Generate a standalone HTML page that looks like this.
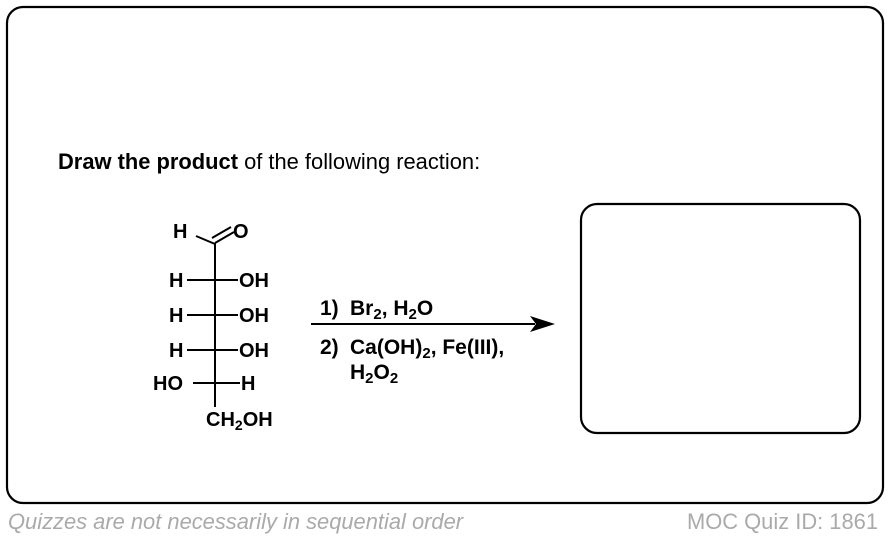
<!DOCTYPE html>
<html><head><style>
body{margin:0;width:890px;height:538px;background:#fff;overflow:hidden;font-family:"Liberation Sans",Arial,sans-serif}
</style></head><body>
<svg width="890" height="538" xmlns="http://www.w3.org/2000/svg" style="position:absolute;left:0;top:0">
<rect x="7" y="7" width="876" height="496" rx="16" fill="#fff" stroke="#000" stroke-width="2.2"/>
<rect x="581" y="204" width="279" height="229" rx="16" fill="#fff" stroke="#000" stroke-width="2.2"/>
<text x="58" y="169" font-size="21.9" font-family="Liberation Sans, Arial, sans-serif"><tspan font-weight="bold">Draw the product</tspan> of the following reaction:</text>
<g stroke="#000" stroke-width="2" fill="none">
<line x1="215" y1="243" x2="215" y2="407"/>
<line x1="196" y1="236" x2="215" y2="244"/>
<line x1="215" y1="243" x2="234" y2="232"/>
<line x1="212" y1="238" x2="231" y2="227"/>
<line x1="187" y1="280" x2="238" y2="280"/>
<line x1="187" y1="315" x2="238" y2="315"/>
<line x1="187" y1="350" x2="238" y2="350"/>
<line x1="193" y1="383" x2="240" y2="383"/>
<line x1="311" y1="324" x2="535" y2="324"/>
</g>
<polygon points="555,324 530,316 536,324 530,332" fill="#000"/>
<g font-size="20" font-weight="bold" font-family="Liberation Sans, Arial, sans-serif" fill="#000">
<text x="173" y="238">H</text>
<text x="233" y="238">O</text>
<text x="169" y="287">H</text><text x="239" y="287">OH</text>
<text x="169" y="322">H</text><text x="239" y="322">OH</text>
<text x="169" y="357">H</text><text x="239" y="357">OH</text>
<text x="153" y="390">HO</text><text x="241" y="390">H</text>
<text x="206" y="426">CH<tspan font-size="14" dy="4">2</tspan><tspan dy="-4">OH</tspan></text>
</g>
<g font-size="21" font-weight="bold" font-family="Liberation Sans, Arial, sans-serif" fill="#000">
<text x="320" y="315">1)<tspan x="350">Br</tspan><tspan font-size="15" dy="4">2</tspan><tspan dy="-4">, H</tspan><tspan font-size="15" dy="4">2</tspan><tspan dy="-4">O</tspan></text>
<text x="320" y="354">2)<tspan x="350">Ca(OH)</tspan><tspan font-size="15" dy="4">2</tspan><tspan dy="-4">, Fe(III),</tspan></text>
<text x="350" y="379">H<tspan font-size="15" dy="4">2</tspan><tspan dy="-4">O</tspan><tspan font-size="15" dy="4">2</tspan></text>
</g>
<text x="8" y="529" font-size="21.9" font-style="italic" fill="#aaa" font-family="Liberation Sans, Arial, sans-serif">Quizzes are not necessarily in sequential order</text>
<text x="687" y="529" font-size="21.9" fill="#aaa" font-family="Liberation Sans, Arial, sans-serif">MOC Quiz ID: 1861</text>
</svg>
</body></html>
